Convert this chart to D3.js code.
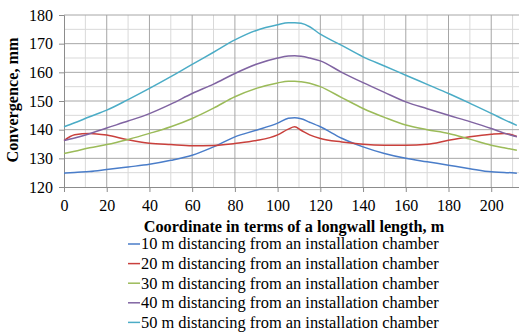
<!DOCTYPE html>
<html>
<head>
<meta charset="utf-8">
<script src="https://cdn.jsdelivr.net/npm/d3@7"></script>
<style>
  body { margin: 0; background: #fff; }
  svg { display: block; font-family: "Liberation Serif", "Times New Roman", serif; }
</style>
</head>
<body>
<div id="root"></div>
<script>
// coordinate along the longwall, m
const X = [0, 5, 12, 20, 30, 40, 50, 60, 70, 80, 90, 100, 105, 108, 111, 115, 120,
           130, 140, 150, 160, 170, 180, 190, 200, 206, 212];

const conv10 = [124.8, 125.1, 125.4, 126.1, 127.0, 127.9, 129.3, 131.1, 134.0, 137.5, 139.8, 142.3, 144.0, 144.2, 143.8, 142.6, 141.0,
                137.0, 134.0, 131.7, 130.0, 128.8, 127.6, 126.4, 125.3, 125.1, 124.8];
const conv20 = [136.2, 138.2, 138.7, 138.1, 136.5, 135.3, 134.8, 134.4, 134.5, 135.2, 136.2, 138.2, 140.2, 141.0, 139.8, 138.2, 136.9,
                135.7, 134.9, 134.6, 134.6, 134.9, 136.3, 137.5, 138.4, 138.7, 137.6];
const conv30 = [131.7, 132.5, 133.7, 134.8, 136.6, 138.7, 141.0, 143.9, 147.5, 151.5, 154.4, 156.3, 156.9, 156.9, 156.7, 156.2, 155.0,
                151.2, 147.4, 144.3, 141.6, 140.0, 138.7, 136.7, 134.6, 133.7, 132.8];
const conv40 = [136.2, 137.1, 138.6, 140.6, 143.0, 145.6, 148.9, 152.6, 155.9, 159.6, 162.8, 165.0, 165.7, 165.8, 165.6, 165.0, 164.0,
                160.0, 156.4, 153.0, 149.7, 147.3, 145.0, 142.8, 140.4, 138.8, 137.5];
const conv50 = [141.0, 142.4, 144.5, 146.8, 150.5, 154.4, 158.5, 162.8, 167.0, 171.3, 174.6, 176.6, 177.3, 177.3, 177.1, 175.9, 173.3,
                169.4, 165.4, 162.2, 159.0, 155.8, 152.6, 149.2, 145.7, 143.5, 141.5];

const LABELS = [
  "10 m distancing from an installation chamber",
  "20 m distancing from an installation chamber",
  "30 m distancing from an installation chamber",
  "40 m distancing from an installation chamber",
  "50 m distancing from an installation chamber"
];
const COLORS = ["#4a7dc9", "#c9403c", "#9bbb59", "#8064a2", "#4bacc6"];
const SERIES = [conv10, conv20, conv30, conv40, conv50];

const xTicks = [0, 20, 40, 60, 80, 100, 120, 140, 160, 180, 200];
const yTicks = [120, 130, 140, 150, 160, 170, 180];

const width = 519, height = 333;
const plotL = 64, plotR = 519, plotT = 15, plotB = 187;
const FONT = "'Liberation Serif', 'Times New Roman', serif";

const svg = d3.select("#root").append("svg")
  .attr("width", width)
  .attr("height", height)
  .attr("font-family", FONT);

const x = d3.scaleLinear().domain([0, 213]).range([plotL, plotR]);
const y = d3.scaleLinear().domain([120, 180]).range([plotB, plotT]);

// minor grid
const grid = svg.append("g");
grid.selectAll(".vmin")
  .data(d3.range(10, 213, 20))
  .enter().append("line")
    .attr("x1", d => x(d)).attr("x2", d => x(d))
    .attr("y1", plotT).attr("y2", plotB)
    .attr("stroke", "#d9d9d9");
grid.selectAll(".hmin")
  .data(d3.range(125, 180, 10))
  .enter().append("line")
    .attr("x1", plotL).attr("x2", plotR)
    .attr("y1", d => y(d)).attr("y2", d => y(d))
    .attr("stroke", "#d9d9d9");

// major grid
grid.selectAll(".vmaj")
  .data(xTicks.slice(1))
  .enter().append("line")
    .attr("x1", d => x(d)).attr("x2", d => x(d))
    .attr("y1", plotT).attr("y2", plotB)
    .attr("stroke", "#a6a6a6");
grid.selectAll(".hmaj")
  .data(yTicks.slice(1))
  .enter().append("line")
    .attr("x1", plotL).attr("x2", plotR)
    .attr("y1", d => y(d)).attr("y2", d => y(d))
    .attr("stroke", "#a6a6a6");

// axes
const yAxis = svg.append("g")
  .attr("transform", `translate(${plotL},0)`)
  .call(d3.axisLeft(y).tickValues(yTicks).tickSize(5).tickPadding(6));
const xAxis = svg.append("g")
  .attr("transform", `translate(0,${plotB})`)
  .call(d3.axisBottom(x).tickValues(xTicks).tickSize(5).tickPadding(8));

[yAxis, xAxis].forEach(a => {
  a.attr("font-family", FONT).attr("font-size", 16);
  a.select(".domain").attr("stroke", "#8c8c8c");
  a.selectAll(".tick line").attr("stroke", "#8c8c8c");
  a.selectAll("text").attr("fill", "#000");
});

// lines
const line = d3.line()
  .x((d, i) => x(X[i]))
  .y(d => y(d))
  .curve(d3.curveMonotoneX);

svg.append("g").selectAll("path")
  .data(SERIES)
  .enter().append("path")
    .attr("d", d => line(d))
    .attr("fill", "none")
    .attr("stroke", (d, i) => COLORS[i])
    .attr("stroke-width", 1.5);

// axis titles
svg.append("text")
  .attr("transform", `translate(18,${(plotT + plotB) / 2 - 1}) rotate(-90)`)
  .attr("text-anchor", "middle")
  .attr("font-size", 16.2)
  .attr("font-weight", "bold")
  .text("Convergence, mm");

svg.append("text")
  .attr("x", (plotL + plotR) / 2 + 2.5)
  .attr("y", 232)
  .attr("text-anchor", "middle")
  .attr("font-size", 16.2)
  .attr("font-weight", "bold")
  .text("Coordinate in terms of a longwall length, m");

// legend
const legend = svg.append("g");
const item = legend.selectAll("g")
  .data(LABELS)
  .enter().append("g")
    .attr("transform", (d, i) => `translate(128,${244 + i * 19.6})`);
item.append("line")
  .attr("x1", 0).attr("x2", 12)
  .attr("stroke", (d, i) => COLORS[i])
  .attr("stroke-width", 1.5);
item.append("text")
  .attr("x", 13)
  .attr("dy", "0.33em")
  .attr("font-size", 16.4)
  .text(d => d);
</script>
</body>
</html>
